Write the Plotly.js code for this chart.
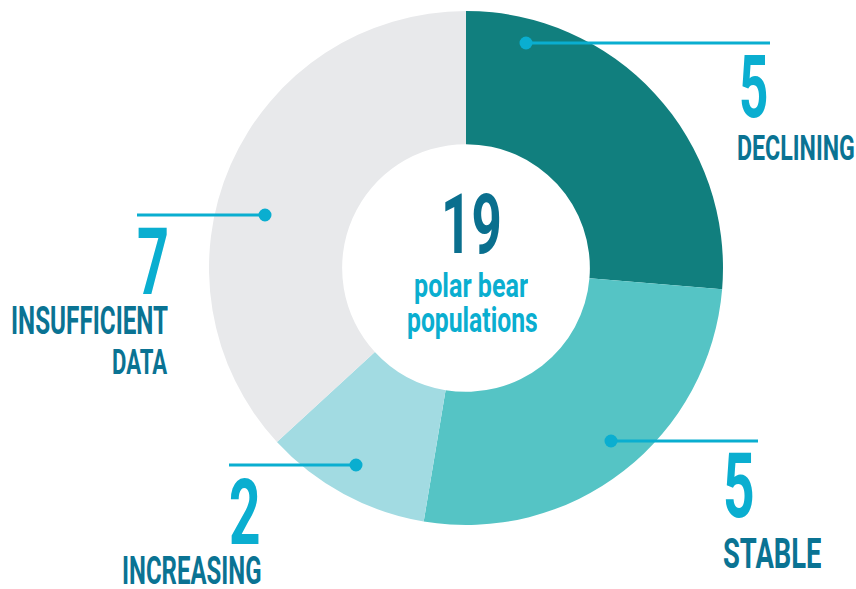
<!DOCTYPE html>
<html><head><meta charset="utf-8">
<script src="https://cdn.plot.ly/plotly-3.0.1.min.js"></script>
<style>html,body{margin:0;padding:0;background:#fff}#chart{width:856px;height:589px}</style>
</head><body><div id="chart"></div>
<script>
// ---- data ----
const categories = ['DECLINING', 'STABLE', 'INCREASING', 'INSUFFICIENT DATA'];
const counts = [5, 5, 2, 7];
const captionLines = ['polar bear', 'populations'];

// ---- style ----
const sliceColors = ['#117f7e', '#55c4c5', '#a2dbe2', '#e8e9eb'];
const cyan = '#0aaed0';
const darkBlue = '#0a7393';
const FONT = 'Roboto';

const W = 856, H = 589;
const px = x => x / W, py = y => 1 - y / H;
const CX = 466, CY = 268, R = 257;

// layout of callouts (pixel boxes: left, right, top, baseline)
const callouts = [
  {dot: [526, 43], lineTo: 770,
   num: {l: 741, r: 767, t: 55, b: 117}, words: [{l: 738, r: 854, t: 134, b: 160}]},
  {dot: [611, 441], lineTo: 758,
   num: {l: 725, r: 753, t: 452, b: 517}, words: [{l: 723, r: 821, t: 537, b: 568}]},
  {dot: [356, 465], lineTo: 229,
   num: {l: 230, r: 259, t: 477, b: 544}, words: [{l: 123, r: 261, t: 557, b: 584}]},
  {dot: [265, 215], lineTo: 137,
   num: {l: 138, r: 167, t: 227, b: 294}, words: [{l: 12, r: 168, t: 307, b: 334}, {l: 113, r: 168, t: 349, b: 374}]}
];
const centerBoxes = {
  total: {l: 445, r: 500, t: 193, b: 253},
  caption: [{l: 415, r: 528, t: 272, b: 297}, {l: 408, r: 537, t: 307, b: 332}]
};

const mctx = document.createElement('canvas').getContext('2d');
function inkMetrics(text, size) {
  mctx.font = '700 ' + size + 'px ' + FONT;
  return mctx.measureText(text);
}
function nominalSize(text, box) {
  const m = inkMetrics(text, 100);
  const w = m.actualBoundingBoxLeft + m.actualBoundingBoxRight;
  return Math.max(8, Math.round(1000 * (box.r - box.l) / w) / 10);
}

const annotations = [];
const fits = [];
function addText(text, box, color, lower) {
  const size = nominalSize(text, box);
  annotations.push({
    text: text, xref: 'paper', yref: 'paper',
    x: px((box.l + box.r) / 2), y: py((box.t + box.b) / 2),
    xanchor: 'center', yanchor: 'middle', showarrow: false, borderpad: 0,
    height: lower ? Math.ceil(size * 0.98) : Math.ceil(size * 0.8),
    valign: lower ? 'bottom' : 'middle',
    font: {family: FONT, size: size, color: color, weight: 700}
  });
  fits.push({text: text, box: box, size: size});
}

const shapes = [];
categories.forEach((cat, i) => {
  const c = callouts[i];
  addText(String(counts[i]), c.num, cyan, false);
  cat.split(' ').forEach((w, k) => addText(w, c.words[k], darkBlue, false));
  shapes.push({type: 'line', xref: 'paper', yref: 'paper',
    x0: px(c.dot[0]), x1: px(c.lineTo), y0: py(c.dot[1]), y1: py(c.dot[1]),
    line: {color: cyan, width: 3}});
  const rr = 6.5;
  shapes.push({type: 'circle', xref: 'paper', yref: 'paper',
    x0: px(c.dot[0] - rr), x1: px(c.dot[0] + rr), y0: py(c.dot[1] + rr), y1: py(c.dot[1] - rr),
    fillcolor: cyan, line: {width: 0}});
});
const total = counts.reduce((a, b) => a + b, 0);
addText(String(total), centerBoxes.total, '#0a6f8e', false);
captionLines.forEach((t, k) => addText(t, centerBoxes.caption[k], cyan, true));

const data = [{
  type: 'pie', values: counts, labels: categories, sort: false,
  direction: 'clockwise', rotation: 0, hole: 0.482,
  marker: {colors: sliceColors, line: {width: 0}},
  textinfo: 'none', hoverinfo: 'none', showlegend: false,
  domain: {x: [px(CX - R), px(CX + R)], y: [py(CY + R), py(CY - R)]}
}];

const layout = {
  width: W, height: H, margin: {l: 0, r: 0, t: 0, b: 0, pad: 0},
  paper_bgcolor: '#ffffff', plot_bgcolor: '#ffffff',
  showlegend: false, annotations: annotations, shapes: shapes
};

Plotly.newPlot('chart', data, layout, {staticPlot: true, displayModeBar: false}).then(() => {
  const host = document.getElementById('chart').getBoundingClientRect();
  fits.forEach((f, i) => {
    const g = document.querySelector('#chart g.annotation[data-index="' + i + '"]');
    if (!g) return;
    const t = g.querySelector('text.annotation-text');
    if (!t) return;
    const svg = t.ownerSVGElement;
    const m = inkMetrics(f.text, f.size);
    const bb = t.getBBox();
    let baseline = parseFloat(t.getAttribute('y'));
    if (!isFinite(baseline)) baseline = bb.y + m.fontBoundingBoxAscent;
    const inkL = bb.x - m.actualBoundingBoxLeft;
    const inkR = bb.x + m.actualBoundingBoxRight;
    const inkT = baseline - m.actualBoundingBoxAscent;
    const Ginv = g.getScreenCTM().inverse();
    const M = Ginv.multiply(t.getScreenCTM());
    const P = (x, y, mat) => { const p = svg.createSVGPoint(); p.x = x; p.y = y; return p.matrixTransform(mat); };
    const a = P(inkL, inkT, M), b = P(inkR, baseline, M);
    const ta = P(f.box.l + host.left, f.box.t + host.top, Ginv);
    const tb = P(f.box.r + host.left, f.box.b + host.top, Ginv);
    const sx = (tb.x - ta.x) / (b.x - a.x);
    const sy = (tb.y - ta.y) / (b.y - a.y);
    const prev = g.getAttribute('transform') || '';
    g.setAttribute('transform', prev + ' translate(' + ta.x + ',' + ta.y + ') scale(' + sx + ',' + sy + ') translate(' + (-a.x) + ',' + (-a.y) + ')');
  });
});
</script>
</body></html>
